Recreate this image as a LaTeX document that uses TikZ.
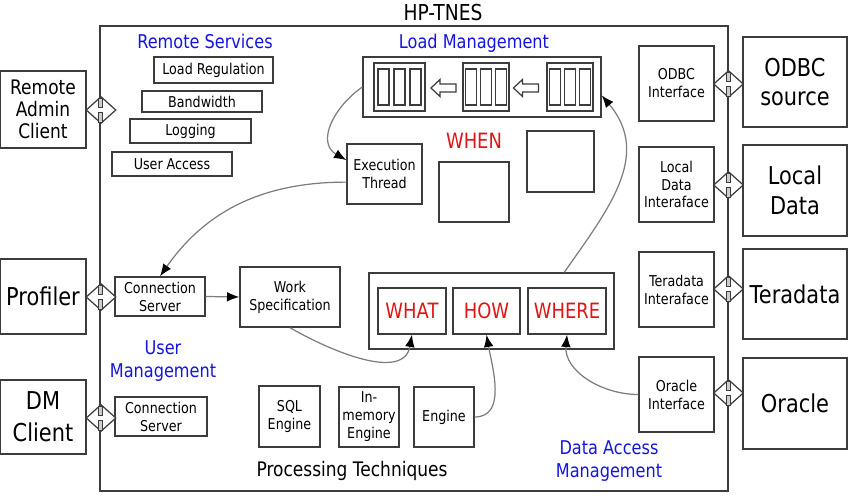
\documentclass[tikz,border=0pt]{standalone}
\usepackage{fontspec}
\setmainfont{DejaVu Sans}[FakeStretch=0.85]
\usetikzlibrary{shapes.geometric,arrows.meta}
\definecolor{edgegray}{RGB}{60,60,60}
\definecolor{flowgray}{RGB}{125,125,125}
\definecolor{lblblue}{RGB}{20,20,225}
\definecolor{lblred}{RGB}{225,20,20}

\begin{document}
\begin{tikzpicture}[x=0.02cm,y=0.02cm,
	box/.style = {rectangle,draw=edgegray,line width=0.8pt,inner sep=0pt,align=center},
	small box/.style = {box,font=\fontsize{8.5}{10.2}\selectfont},
	big box/.style = {box,font=\fontsize{14}{17}\selectfont,minimum width=2.08cm},
	iface/.style = {small box,minimum width=1.5cm,minimum height=1.5cm},
	bar/.style = {rectangle,draw=edgegray,line width=0.7pt,inner sep=0pt,minimum width=0.22cm,minimum height=0.72cm},
	blue label/.style = {text=lblblue,align=center,font=\fontsize{10.8}{13}\selectfont},
	red label/.style = {text=lblred,font=\fontsize{12}{14}\selectfont},
	plug/.style = {diamond,draw=edgegray,line width=0.7pt,fill=white,inner sep=0pt,minimum width=0.6cm,minimum height=0.54cm},
	flow/.style = {draw=flowgray,line width=0.7pt,-{Latex[length=7pt,width=5.5pt,black]}}]
	
	\useasboundingbox (0,0) rectangle (850,-496);
	\node[box,minimum width=12.56cm,minimum height=9.3cm] (0) at (414,-258.5) {};
	\node[font=\fontsize{12.5}{15}\selectfont,anchor=base] (t) at (443,-21) {HP-TNES};
	
	% clients and sources
	\node[big box,minimum width=1.72cm,minimum height=1.54cm,font=\fontsize{11.4}{12.6}\selectfont] (1) at (43,-109.5) {Remote\\Admin\\Client};
	\node[big box,minimum width=1.72cm,minimum height=1.5cm] (2) at (43,-296.5) {Profiler};
	\node[big box,minimum width=1.72cm,minimum height=1.48cm,font=\fontsize{14}{18}\selectfont] (3) at (43,-417) {DM\\Client};
	\node[big box,minimum height=1.8cm] (4) at (795,-82) {ODBC\\source};
	\node[big box,minimum height=1.82cm] (5) at (795,-190.5) {Local\\Data};
	\node[big box,minimum height=1.8cm] (6) at (795,-294) {Teradata};
	\node[big box,minimum height=1.82cm] (7) at (795,-403.5) {Oracle};
	\node[iface] (8) at (676.5,-83.5) {ODBC\\Interface};
	\node[iface] (9) at (676.5,-184.5) {Local\\Data\\Interaface};
	\node[iface] (10) at (676.5,-289.5) {Teradata\\Interaface};
	\node[iface] (11) at (676.5,-394.5) {Oracle\\Interface};
	
	% remote services
	\node[blue label] (12) at (205,-41) {Remote Services};
	\node[small box,minimum width=2.38cm,minimum height=0.52cm] (13) at (213.5,-70) {Load Regulation};
	\node[small box,minimum width=2.4cm,minimum height=0.42cm] (14) at (202,-101.5) {Bandwidth};
	\node[small box,minimum width=2.42cm,minimum height=0.48cm] (15) at (190.5,-131) {Logging};
	\node[small box,minimum width=2.4cm,minimum height=0.48cm] (16) at (172,-164) {User Access};
	
	% load management
	\node[blue label] (17) at (474,-43) {Load Management};
	\node[box,minimum width=4.76cm,minimum height=1.2cm] (18) at (482,-87) {};
	\node[box,minimum width=1.02cm,minimum height=0.96cm] (19) at (399.5,-87) {};
	\node[box,minimum width=0.92cm,minimum height=0.96cm] (20) at (486,-87) {};
	\node[box,minimum width=0.92cm,minimum height=0.96cm] (21) at (570,-87) {};
	\foreach \q/\d in {19/16,20/15,21/15}
	\foreach \k in {-1,0,1}
	\node[bar] at ([xshift=\k*\d*0.02cm]\q.center) {};
	\foreach \cx in {443.5,526}
	\draw[edgegray,line width=0.7pt] (\cx-12.5,-88) -- (\cx-3.5,-79.5) -- (\cx-3.5,-84) -- (\cx+12.5,-84)
	-- (\cx+12.5,-92) -- (\cx-3.5,-92) -- (\cx-3.5,-96.5) -- cycle;
	\node[small box,minimum width=1.5cm,minimum height=1.2cm] (22) at (384.5,-174) {Execution\\Thread};
	\node[red label] (23) at (474,-141) {WHEN};
	\node[box,minimum width=1.4cm,minimum height=1.2cm] (24) at (474,-192) {};
	\node[box,minimum width=1.34cm,minimum height=1.22cm] (25) at (560.5,-161.5) {};
	
	% user management
	\node[small box,minimum width=1.8cm,minimum height=0.78cm] (26) at (160,-296.5) {Connection\\Server};
	\node[small box,minimum width=1.84cm,minimum height=0.78cm] (27) at (161,-416.5) {Connection\\Server};
	\node[blue label] (28) at (163,-361) {User\\Management};
	\node[small box,minimum width=2cm,minimum height=1.2cm] (29) at (290,-297) {Work\\Specification};
	
	% what, how, where
	\node[box,minimum width=4.9cm,minimum height=1.52cm] (30) at (491.5,-311) {};
	\node[box,minimum width=1.36cm,minimum height=0.92cm,red label] (31) at (412,-311) {WHAT};
	\node[box,minimum width=1.34cm,minimum height=0.92cm,red label] (32) at (486.5,-311) {HOW};
	\node[box,minimum width=1.56cm,minimum height=0.92cm,red label] (33) at (567,-311) {WHERE};
	
	% processing techniques
	\node[small box,minimum width=1.22cm,minimum height=1.22cm] (34) at (289.5,-416.5) {SQL\\Engine};
	\node[small box,minimum width=1.2cm,minimum height=1.2cm] (35) at (369,-417) {In-\\memory\\Engine};
	\node[small box,minimum width=1.2cm,minimum height=1.2cm] (36) at (444,-417) {Engine};
	\node[font=\fontsize{11.4}{13}\selectfont] (37) at (352,-471) {Processing Techniques};
	\node[blue label] (38) at (609,-461) {Data Access\\Management};
	
	% plugs on the frame
	\foreach \n/\x/\y in {a/101/110,b/101/297,c/101/418,d/728.5/84,e/728.5/185,f/728.5/289,g/728.5/393}{
		\node[plug] (d\n) at (\x,-\y) {};
		\draw[edgegray,fill=gray!40,line width=0.5pt] (\x-2.5,-\y+12) rectangle (\x+1.5,-\y+2.5);
		\draw[edgegray,fill=gray!40,line width=0.5pt] (\x-2.5,-\y-2.5) rectangle (\x+1.5,-\y-12);
	}
	
	\path[every edge/.style=flow]
	(18.west) edge [out=215,in=150,looseness=1.2] (22.160)
	(22.192) edge [out=180,in=55] (26.north)
	(26.east) edge (29.west)
	(29.south) edge [out=-30,in=-100] (31.south)
	(36.east) edge [out=0,in=-80] (32.south)
	(11.west) edge [out=180,in=-95] (33.south)
	(30.28) edge [out=55,in=-50,looseness=1.1] (18.-4);
\end{tikzpicture}
\end{document}
